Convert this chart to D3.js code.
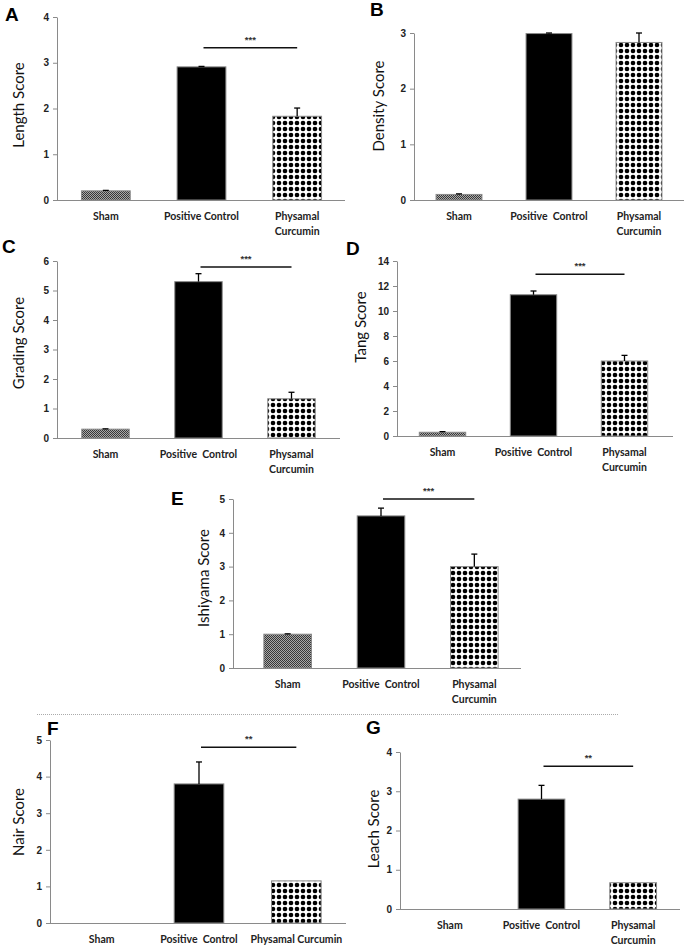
<!DOCTYPE html>
<html><head><meta charset="utf-8">
<script src="https://cdn.jsdelivr.net/npm/d3@7"></script>
<style>body{margin:0;background:#fff} svg{display:block}</style>
</head><body>
<svg id="fig" width="685" height="945"></svg>
<script>
// ---------- data ----------
const categories = ["Sham", "Positive Control", "Physamal Curcumin"];
const panelLetters = ["A", "B", "C", "D", "E", "F", "G"];
const yTitles = ["Length Score", "Density Score", "Grading Score", "Tang Score", "Ishiyama Score", "Nair Score", "Leach Score"];
const yMaxima = [4, 3, 6, 14, 5, 5, 4];
const yTickSteps = [1, 1, 1, 2, 1, 1, 1];
const lengthMeans = [0.2, 2.91, 1.83];   const lengthErrors = [0.01, 0.01, 0.18];
const densityMeans = [0.1, 2.99, 2.83];  const densityErrors = [0.01, 0.01, 0.17];
const gradingMeans = [0.3, 5.3, 1.33];   const gradingErrors = [0.01, 0.27, 0.22];
const tangMeans = [0.3, 11.3, 6.0];      const tangErrors = [0.05, 0.3, 0.45];
const ishiyamaMeans = [1.0, 4.5, 3.0];   const ishiyamaErrors = [0.01, 0.23, 0.37];
const nairMeans = [0, 3.8, 1.15];        const nairErrors = [0, 0.6, 0];
const leachMeans = [0, 2.8, 0.67];       const leachErrors = [0, 0.35, 0];
const sigLabels = ["***", "", "***", "***", "***", "**", "**"];
const sigLevels = [3.33, null, 5.8, 12.95, 5.0, 4.8, 3.64];

const meansList = [lengthMeans, densityMeans, gradingMeans, tangMeans, ishiyamaMeans, nairMeans, leachMeans];
const errorsList = [lengthErrors, densityErrors, gradingErrors, tangErrors, ishiyamaErrors, nairErrors, leachErrors];

// ---------- layout (positions only) ----------
const layout = [
  {axisX: 57,  yTop: 17,  y0: 200, axisEnd: 345, band: [58, 345],  letter: [5, 21],   title: [18, 105],  wrap: true},
  {axisX: 414, yTop: 33,  y0: 200, axisEnd: 684, band: [414, 684], letter: [370, 16], title: [378, 106], wrap: true},
  {axisX: 57,  yTop: 261, y0: 438, axisEnd: 340, band: [59, 338],  letter: [2, 253],  title: [18, 343],  wrap: true},
  {axisX: 397, yTop: 261, y0: 436, axisEnd: 673, band: [397, 670], letter: [346, 255], title: [360, 327], wrap: true},
  {axisX: 233, yTop: 499, y0: 668, axisEnd: 521, band: [241, 521], letter: [171, 505], title: [203, 578], wrap: true},
  {axisX: 50,  yTop: 740, y0: 923, axisEnd: 346, band: [53, 345],  letter: [47, 735],  title: [18, 822],  wrap: false},
  {axisX: 400, yTop: 752, y0: 909, axisEnd: 680, band: [404, 679], letter: [366, 734], title: [373, 829], wrap: true}
];

const svg = d3.select("#fig");
const defs = svg.append("defs");
// Sham: fine dark checker
const pc = defs.append("pattern").attr("id", "checker").attr("patternUnits", "userSpaceOnUse")
  .attr("width", 2).attr("height", 2);
pc.append("rect").attr("width", 2).attr("height", 2).attr("fill", "#a8a8a8");
pc.append("rect").attr("width", 1).attr("height", 1).attr("fill", "#383838");
pc.append("rect").attr("x", 1).attr("y", 1).attr("width", 1).attr("height", 1).attr("fill", "#383838");
// Physamal: dots/diamonds on white
const pd = defs.append("pattern").attr("id", "dots").attr("patternUnits", "userSpaceOnUse")
  .attr("width", 6).attr("height", 6);
pd.append("rect").attr("width", 6).attr("height", 6).attr("fill", "#fff");
pd.append("circle").attr("cx", 3).attr("cy", 3).attr("r", 2.3).attr("fill", "#000");

const fills = ["url(#checker)", "#000", "url(#dots)"];
const axisColor = "#8a8a8a";

// dotted separator
svg.append("line").attr("x1", 37).attr("x2", 618).attr("y1", 714.5).attr("y2", 714.5)
  .attr("stroke", "#aaa").attr("stroke-width", 1).attr("stroke-dasharray", "1,1");

layout.forEach((L, i) => {
  const means = meansList[i], errs = errorsList[i];
  const g = svg.append("g");
  const y = d3.scaleLinear().domain([0, yMaxima[i]]).range([L.y0, L.yTop]);
  const x = d3.scaleBand().domain(categories).range(L.band).paddingInner(0.49).paddingOuter(0.245);
  const bw = x.bandwidth();

  // y axis
  const ya = g.append("g").attr("transform", `translate(${L.axisX},0)`)
    .call(d3.axisLeft(y).tickValues(d3.range(0, yMaxima[i] + 0.001, yTickSteps[i]))
      .tickFormat(d3.format("d")).tickSize(4).tickSizeOuter(0).tickPadding(4));
  ya.select(".domain").attr("stroke", axisColor);
  ya.selectAll(".tick line").attr("stroke", axisColor);
  ya.selectAll(".tick text").attr("font-family", "'Liberation Sans', Arial, sans-serif")
    .attr("font-weight", "bold").attr("font-size", 10).attr("fill", "#222");

  // bars
  const data = categories.map((c, k) => ({c, k, m: means[k], e: errs[k]}));
  g.selectAll("rect.bar").data(data.filter(d => d.m > 0)).join("rect")
    .attr("class", "bar")
    .attr("x", d => x(d.c)).attr("width", bw)
    .attr("y", d => y(d.m)).attr("height", d => L.y0 - y(d.m))
    .attr("fill", d => fills[d.k]).attr("stroke", "#8a8a8a").attr("stroke-width", 1);

  // error bars
  const eb = data.filter(d => d.m > 0 && d.e > 0);
  g.selectAll("line.err").data(eb).join("line").attr("class", "err")
    .attr("x1", d => x(d.c) + bw / 2).attr("x2", d => x(d.c) + bw / 2)
    .attr("y1", d => y(d.m)).attr("y2", d => y(d.m + d.e))
    .attr("stroke", "#000").attr("stroke-width", 1.3);
  g.selectAll("line.cap").data(eb).join("line").attr("class", "cap")
    .attr("x1", d => x(d.c) + bw / 2 - 3).attr("x2", d => x(d.c) + bw / 2 + 3)
    .attr("y1", d => y(d.m + d.e)).attr("y2", d => y(d.m + d.e))
    .attr("stroke", "#000").attr("stroke-width", 1.3);

  // x axis line
  g.append("line").attr("x1", L.axisX).attr("x2", L.axisEnd).attr("y1", L.y0 + 0.5).attr("y2", L.y0 + 0.5)
    .attr("stroke", axisColor).attr("stroke-width", 1.2);

  // category labels
  categories.forEach((c, k) => {
    const t = g.append("text").attr("x", x(c) + bw / 2).attr("y", L.y0 + 20)
      .attr("text-anchor", "middle").attr("font-family", "Lato, 'Open Sans', sans-serif")
      .attr("font-weight", "bold").attr("font-size", 10.5).attr("fill", "#222");
    if (L.wrap && k === 2) {
      const parts = c.split(" ");
      t.append("tspan").attr("x", x(c) + bw / 2).text(parts[0]);
      t.append("tspan").attr("x", x(c) + bw / 2).attr("dy", 14.5).text(parts.slice(1).join(" "));
    } else {
      t.attr("xml:space", "preserve").text(k === 1 && i > 0 ? "Positive  Control" : c);
    }
  });

  // y title
  g.append("text").attr("transform", `translate(${L.title[0]},${L.title[1]}) rotate(-90)`)
    .attr("text-anchor", "middle").attr("dominant-baseline", "central")
    .attr("font-family", "Lato, 'Open Sans', sans-serif").attr("font-size", 15).attr("fill", "#111")
    .text(yTitles[i]);

  // panel letter
  g.append("text").attr("x", L.letter[0]).attr("y", L.letter[1])
    .attr("font-family", "'Liberation Sans', Arial, sans-serif").attr("font-weight", "bold")
    .attr("font-size", 19).attr("fill", "#000").text(panelLetters[i]);

  // significance
  if (sigLevels[i] != null) {
    const x1 = x(categories[1]) + bw / 2 + 2, x2 = x(categories[2]) + bw / 2;
    const yy = y(sigLevels[i]);
    g.append("line").attr("x1", x1).attr("x2", x2).attr("y1", yy).attr("y2", yy)
      .attr("stroke", "#111").attr("stroke-width", 1.5);
    g.append("text").attr("x", (x1 + x2) / 2).attr("y", yy - 5).attr("text-anchor", "middle")
      .attr("font-family", "'Liberation Sans', Arial, sans-serif").attr("font-weight", "bold")
      .attr("font-size", 9.5).attr("fill", "#333").text(sigLabels[i]);
  }
});
</script>
</body></html>
